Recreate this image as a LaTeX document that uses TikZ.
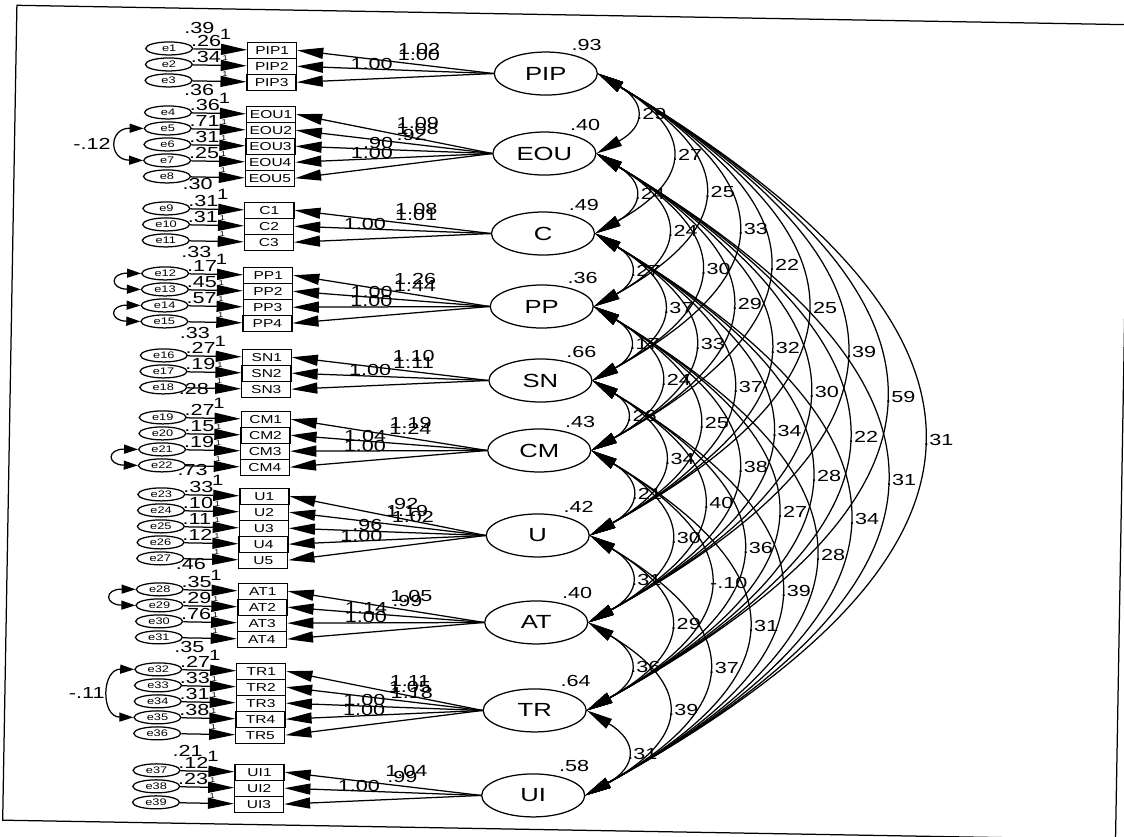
\documentclass[tikz,border=0pt]{standalone}
\usepackage{fontspec}
\setmainfont{Liberation Sans}[FakeStretch=1.35]
\usetikzlibrary{shapes.geometric,arrows.meta}

\tikzset{
  latent/.style={draw, ellipse, minimum width=103pt, minimum height=43pt, inner sep=0pt, font=\fontsize{19}{19}\selectfont},
  indic/.style={draw, rectangle, minimum width=49pt, minimum height=16pt, inner sep=0pt, font=\fontsize{11.5}{11.5}\selectfont},
  errvar/.style={draw, ellipse, minimum width=47pt, minimum height=13pt, inner sep=0pt, font=\fontsize{9.5}{9.5}\selectfont},
  est/.style={inner sep=0pt, font=\fontsize{16}{16}\selectfont},
  one/.style={inner sep=0pt, font=\fontsize{15}{15}\selectfont},
  tinyone/.style={inner sep=0pt, font=\fontsize{7}{7}\selectfont},
  smalltips/.style={>={Triangle[length=14pt,width=9pt]}},
}

\begin{document}
\begin{tikzpicture}[x=1pt, y=-1pt, line width=1.25pt, >={Triangle[length=26pt,width=11pt]}]
\useasboundingbox (0,0) rectangle (1124,837);
\clip (0,0) rectangle (1124,837);
\begin{scope}[rotate=-1]
	% frame
	\draw (17,5) rectangle (1130,820);
	% factors, indicators and error terms
	\foreach \f/\fy/\n/\e/\v in {PIP/64/3/1/.93, EOU/144/5/4/.40, C/224/3/9/.49, PP/297/4/12/.36, SN/371/3/16/.66,
	    CM/441/4/19/.43, U/526/5/23/.42, AT/613/4/28/.40, TR/701/5/32/.64, UI/786/3/37/.58}{
		\node[latent, label={[est, label distance=4pt]42:\v}] (\f) at (547,\fy) {\f};
		\foreach \k in {1,...,\n}{
			\pgfmathsetmacro\ry{\fy-2.5+(\k-(\n+1)/2)*16}
			\pgfmathtruncatemacro\ei{\e+\k-1}
			\node[indic] (\f\k) at (273,\ry) {\f\k};
			\node[errvar] (e\ei) at (170,\ry) {e\ei};
			\draw[->] (\f.west) -- (\f\k.east);
			\ifnum\k=1
				\draw[->] (e\ei) -- node[one, pos=.6, above=9pt] {1} (\f\k);
			\else
				\draw[->] (e\ei) -- node[tinyone, pos=.6, above=4pt] {1} (\f\k);
			\fi
		}
	}
	% loadings
	\foreach \f/\k/\p/\lab in {PIP/1/.38/1.02, PIP/2/.38/1.00, PIP/3/.62/1.00,
	    EOU/1/.38/1.09, EOU/2/.38/1.08, EOU/3/.41/.92, EOU/4/.58/.90, EOU/5/.61/1.00,
	    C/1/.38/1.08, C/2/.38/1.01, C/3/.64/1.00,
	    PP/1/.38/1.26, PP/2/.38/1.44, PP/3/.6/1.00, PP/4/.6/1.00,
	    SN/1/.38/1.10, SN/2/.38/1.11, SN/3/.6/1.00,
	    CM/1/.39/1.19, CM/2/.39/1.24, CM/3/.62/1.04, CM/4/.62/1.00,
	    U/1/.42/.92, U/2/.40/1.19, U/3/.37/1.02, U/4/.6/.96, U/5/.63/1.00,
	    AT/1/.37/1.05, AT/2/.39/.99, AT/3/.6/1.14, AT/4/.6/1.00,
	    TR/1/.37/1.11, TR/2/.37/1.05, TR/3/.36/1.18, TR/4/.6/1.00, TR/5/.6/1.00,
	    UI/1/.38/1.04, UI/2/.40/.99, UI/3/.62/1.00}
		\path (\f.west) -- node[est, pos=\p, above=9pt] {\lab} (\f\k.east);
	% error variances
	\foreach \i/\lab in {1/.26, 2/.34, 4/.36, 5/.71, 6/.31, 7/.25, 9/.31, 10/.31, 12/.17, 13/.45, 14/.57,
	    16/.27, 17/.19, 19/.27, 20/.15, 21/.19, 23/.33, 24/.10, 25/.11, 26/.12, 28/.35, 29/.29, 30/.76,
	    32/.27, 33/.33, 34/.31, 35/.38, 37/.12, 38/.23}
		\node[est, anchor=west] at ([xshift=-3pt, yshift=7pt]e\i.east) {\lab};
	\foreach \i/\d/\lab in {3/10/.36, 8/8/.30, 11/12/.33, 15/12/.33, 18/2/.28, 22/5/.73, 27/6/.46, 31/10/.35, 36/18/.21}
		\node[est, anchor=west] at ([xshift=-9pt, yshift=-\d pt]e\i.east) {\lab};
	\node[est, anchor=west] at ([xshift=-10pt, yshift=20pt]e1.east) {.39};
	% correlated errors
	\draw[<->, smalltips] (e5.west) to[out=180, in=180, looseness=2.8] node[est, anchor=east, xshift=-6pt] {-.12} (e7.west);
	\draw[<->, smalltips] (e32.west) to[out=180, in=180, looseness=1.75] node[est, anchor=east, xshift=-4pt] {-.11} (e35.west);
	\foreach \a/\b in {12/13, 14/15, 21/22, 28/29}
		\draw[<->, smalltips] (e\a.west) to[out=180, in=180, looseness=5] (e\b.west);
	% factor covariances
	\foreach \a/\b/\lab in {PIP/EOU/.29, PIP/C/.27, PIP/PP/.25, PIP/SN/.33, PIP/CM/.22, PIP/U/.25, PIP/AT/.39, PIP/TR/.59, PIP/UI/.31,
	    EOU/C/.24, EOU/PP/.24, EOU/SN/.30, EOU/CM/.29, EOU/U/.32, EOU/AT/.30, EOU/TR/.22, EOU/UI/.31,
	    C/PP/.27, C/SN/.37, C/CM/.33, C/U/.37, C/AT/.34, C/TR/.28, C/UI/.34,
	    PP/SN/.17, PP/CM/.24, PP/U/.25, PP/AT/.38, PP/TR/.27, PP/UI/.28,
	    SN/CM/.26, SN/U/.34, SN/AT/.40, SN/TR/.36, SN/UI/.39,
	    CM/U/.21, CM/AT/.30, CM/TR/-.10, CM/UI/.31,
	    U/AT/.31, U/TR/.29, U/UI/.37,
	    AT/TR/.36, AT/UI/.39,
	    TR/UI/.31}
		\draw[<->] (\a.east) to[out=-30, in=30, looseness=1.8] node[est, anchor=west, xshift=2pt] {\lab} (\b.east);
\end{scope}
\end{tikzpicture}
\end{document}
